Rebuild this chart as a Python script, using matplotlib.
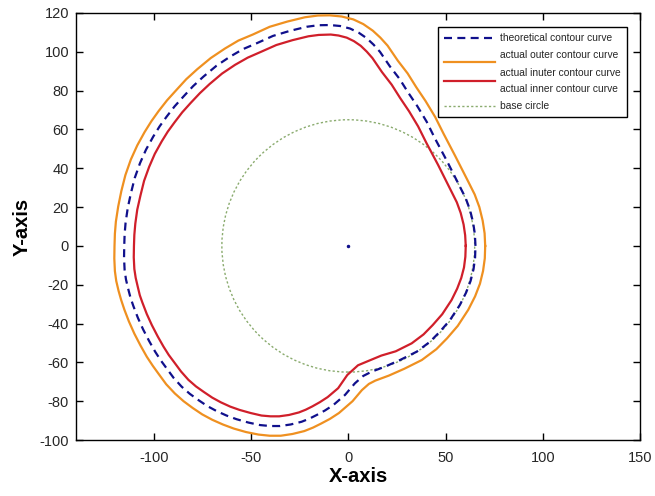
import matplotlib
matplotlib.use("Agg")
import matplotlib.pyplot as plt
from matplotlib.patches import Circle
from matplotlib.lines import Line2D
from matplotlib.legend_handler import HandlerLine2D

plt.rcParams['font.family'] = ['Liberation Sans', 'DejaVu Sans']
plt.rcParams['axes.unicode_minus'] = False

# theoretical contour curve
theo_x = [65.4, 65.1, 64.2, 62.6, 60.4, 57.4, 50.6, 44.5, 40.3, 35.5, 30.8, 26.4, 21.4, 16.3, 13.0,
          9.5, 5.3, 0.9, -4.2, -9.4, -15.4, -21.4, -30.0, -38.7, -47.1, -54.1, -60.8, -67.8,
          -74.5, -79.8, -84.8, -89.3, -93.4, -97.0, -100.3, -104.0, -107.1, -109.8, -111.8,
          -113.4, -114.5, -115.0, -115.2, -115.3, -115.0, -114.3, -113.2, -112.0, -110.5,
          -108.2, -105.5, -102.4, -99.3, -96.4, -93.4, -89.8, -85.7, -81.5, -77.1, -72.5,
          -67.7, -62.6, -57.4, -51.4, -45.4, -40.2, -35.1, -29.6, -24.0, -20.0, -16.2, -12.0,
          -7.7, -1.7, 3.4, 7.7, 12.0, 18.9, 26.6, 35.2, 42.0, 47.1, 52.3, 57.4, 60.6, 62.9,
          64.4, 65.2, 65.4]
theo_y = [0.0, 6.0, 12.0, 18.5, 24.5, 30.5, 44.0, 55.5, 64.0, 72.0, 79.0, 86.0, 92.5, 100.0, 103.7,
          107.0, 109.9, 112.0, 113.3, 113.8, 113.7, 112.9, 110.8, 108.2, 104.4, 101.4, 97.5, 92.8,
          87.2, 82.3, 76.9, 71.9, 66.6, 61.6, 56.3, 49.6, 42.6, 35.0, 27.0,
          19.5, 12.0, 6.0, 0.0, -6.2, -12.4, -17.3, -22.0, -26.6, -31.0,
          -37.0, -43.0, -49.0, -54.5, -59.0, -63.1, -68.0, -72.5, -76.2, -79.4, -82.5,
          -85.1, -87.4, -89.3, -91.0, -92.3, -92.8, -92.8, -92.0, -90.6, -89.0, -87.1, -84.8,
          -82.0, -76.8, -70.8, -67.0, -64.8, -62.2, -58.8, -54.5, -49.4, -44.2, -38.2, -30.4, -24.0, -18.0,
          -12.0, -6.0, 0.0]

# actual outer contour curve
outer_x = [70.4, 70.1, 69.1, 67.4, 65.0, 61.9, 55.0, 49.0, 44.7, 39.7, 35.0, 30.5, 25.5, 20.2, 16.5,
           12.6, 7.7, 2.6, -3.4, -9.6, -15.6, -22.3, -31.3, -40.4, -49.1, -56.5, -63.4, -70.7,
           -77.7, -83.3, -88.5, -93.2, -97.5, -101.2, -104.7, -108.5, -111.8, -114.6, -116.7,
           -118.3, -119.5, -120.0, -120.2, -120.3, -120.0, -119.3, -118.1, -116.8, -115.1,
           -112.8, -110.0, -106.8, -103.6, -100.5, -97.4, -93.6, -89.2, -84.7, -80.0, -75.1,
           -69.9, -64.5, -58.9, -52.6, -46.2, -40.4, -34.7, -28.7, -22.6, -18.1, -13.9, -9.4,
           -4.8, 2.2, 7.0, 10.6, 13.9, 20.9, 28.8, 37.8, 45.3, 50.8, 56.3, 61.7, 65.2, 67.7,
           69.3, 70.2, 70.4]
outer_y = [0.0, 6.5, 13.0, 20.0, 26.5, 32.7, 46.3, 57.8, 66.4, 74.7, 81.7, 88.9, 95.4, 103.2, 107.3,
           110.9, 114.3, 116.7, 118.2, 118.8, 118.7, 117.8, 115.6, 112.9, 108.9, 105.8, 101.7, 96.8,
           91.0, 85.9, 80.2, 75.0, 69.5, 64.3, 58.7, 51.8, 44.5, 36.5, 28.2,
           20.3, 12.5, 6.3, 0.0, -6.5, -13.0, -18.1, -23.2, -27.8, -32.9,
           -38.9, -45.2, -51.4, -57.1, -61.8, -66.1, -71.3, -76.0, -80.0, -83.5, -86.8,
           -89.6, -92.0, -94.1, -95.9, -97.2, -97.8, -97.8, -96.9, -95.4, -93.6, -91.5, -89.1,
           -86.1, -80.0, -74.3, -71.1, -69.4, -66.8, -63.3, -58.8, -53.2, -47.6, -41.2, -32.9, -26.0, -19.5,
           -12.9, -6.4, 0.0]

# actual inner contour curve
inner_x = [60.4, 60.1, 59.3, 57.8, 55.8, 52.9, 46.2, 40.1, 35.9, 31.3, 26.6, 22.3, 17.3, 12.4, 9.5,
           6.4, 2.9, -0.8, -5.0, -9.0, -15.2, -20.5, -28.7, -37.0, -45.1, -51.7, -58.2, -64.9,
           -71.3, -76.3, -81.1, -85.4, -89.3, -92.8, -95.9, -99.5, -102.4, -105.0, -106.9,
           -108.5, -109.5, -110.0, -110.2, -110.3, -110.0, -109.3, -108.3, -107.2, -105.9,
           -103.6, -101.0, -98.0, -95.0, -92.3, -89.4, -86.0, -82.2, -78.3, -74.2, -69.9,
           -65.5, -60.7, -55.9, -50.2, -44.6, -40.0, -35.5, -30.5, -25.4, -21.9, -18.5, -14.6,
           -10.6, -5.2, -0.5, 5.0, 10.5, 17.0, 24.4, 32.6, 38.7, 43.4, 48.3, 53.1, 56.0, 58.1,
           59.5, 60.2, 60.4]
inner_y = [0.0, 5.5, 11.0, 17.0, 22.5, 28.3, 41.7, 53.2, 61.6, 69.3, 76.3, 83.1, 89.6, 96.8, 100.1,
           103.1, 105.5, 107.3, 108.4, 108.9, 108.7, 108.0, 106.0, 103.5, 99.9, 97.0, 93.3, 88.8,
           83.4, 78.7, 73.6, 68.8, 63.7, 58.9, 53.9, 47.4, 40.7, 33.5, 25.8,
           18.7, 11.5, 5.7, 0.0, -5.9, -11.9, -16.5, -20.8, -25.4, -29.1,
           -35.1, -40.8, -46.6, -51.9, -56.2, -60.1, -64.7, -69.0, -72.4, -75.3, -78.2,
           -80.6, -82.8, -84.5, -86.1, -87.4, -87.8, -87.8, -87.1, -85.8, -84.4, -82.7, -80.5,
           -77.9, -73.3, -66.5, -61.5, -59.2, -56.5, -54.3, -50.2, -45.6, -40.8, -35.2, -27.9, -22.0, -16.5,
           -11.1, -5.6, 0.0]

base_radius = 65
x_ticks = [-100, -50, 0, 50, 100, 150]
y_ticks = [-100, -80, -60, -40, -20, 0, 20, 40, 60, 80, 100, 120]

fig = plt.figure(figsize=(6.55, 4.96), dpi=100)
ax = fig.add_axes([76/655, 56/496, 564/655, 427/496])

C_BLUE = '#10108c'
C_ORANGE = '#ef9020'
C_RED = '#d01f2a'
C_GREEN = '#8aab6e'

l_theo, = ax.plot(theo_x, theo_y, color=C_BLUE, lw=1.6, linestyle=(0, (3.6, 2.4)), zorder=4)
l_out, = ax.plot(outer_x, outer_y, color=C_ORANGE, lw=1.6, zorder=3)
l_in, = ax.plot(inner_x, inner_y, color=C_RED, lw=1.6, zorder=3)
circ = Circle((0, 0), base_radius, fill=False, edgecolor=C_GREEN, lw=1.0,
              linestyle=(0, (1.6, 1.6)), zorder=2)
ax.add_patch(circ)
ax.plot([0], [0], marker='.', color=C_BLUE, markersize=3, zorder=5)

ax.set_xlim(-140, 150)
ax.set_ylim(-100, 120)
ax.set_xticks(x_ticks)
ax.set_yticks(y_ticks)
ax.tick_params(direction='in', top=True, right=True, length=5, width=1,
               labelsize=10.5, labelcolor='#262626', pad=5)
ax.tick_params(axis='x', pad=8)
for s in ax.spines.values():
    s.set_linewidth(1.0)
ax.set_xlabel('X-axis', fontsize=14.5, fontweight='bold', labelpad=1)
ax.set_ylabel('Y-axis', fontsize=14.5, fontweight='bold', labelpad=6)

green_handle = Line2D([], [], color=C_GREEN, lw=1.0, linestyle=(0, (1.6, 1.6)))


class ShiftHandler(HandlerLine2D):
    def __init__(self, dy, **kw):
        super().__init__(**kw)
        self.dy = dy

    def create_artists(self, legend, orig_handle, xdescent, ydescent, width, height, fontsize, trans):
        return super().create_artists(legend, orig_handle, xdescent, ydescent + self.dy,
                                      width, height, fontsize, trans)


leg = ax.legend([l_theo, l_out, l_in, green_handle],
                ['theoretical contour curve',
                 'actual outer contour curve',
                 'actual inuter contour curve\nactual inner contour curve',
                 'base circle'],
                loc='upper right', bbox_to_anchor=(0.977, 0.967), borderaxespad=0,
                fontsize=7.4, handlelength=5.0, handletextpad=0.5, borderpad=0.6,
                labelspacing=0.7, fancybox=False, framealpha=1, edgecolor='black',
                handler_map={l_out: ShiftHandler(11)})
leg.get_frame().set_linewidth(1.0)
for t in leg.get_texts():
    t.set_linespacing(1.8)
    t.set_color('#262626')

fig.savefig('out.png', dpi=100)
